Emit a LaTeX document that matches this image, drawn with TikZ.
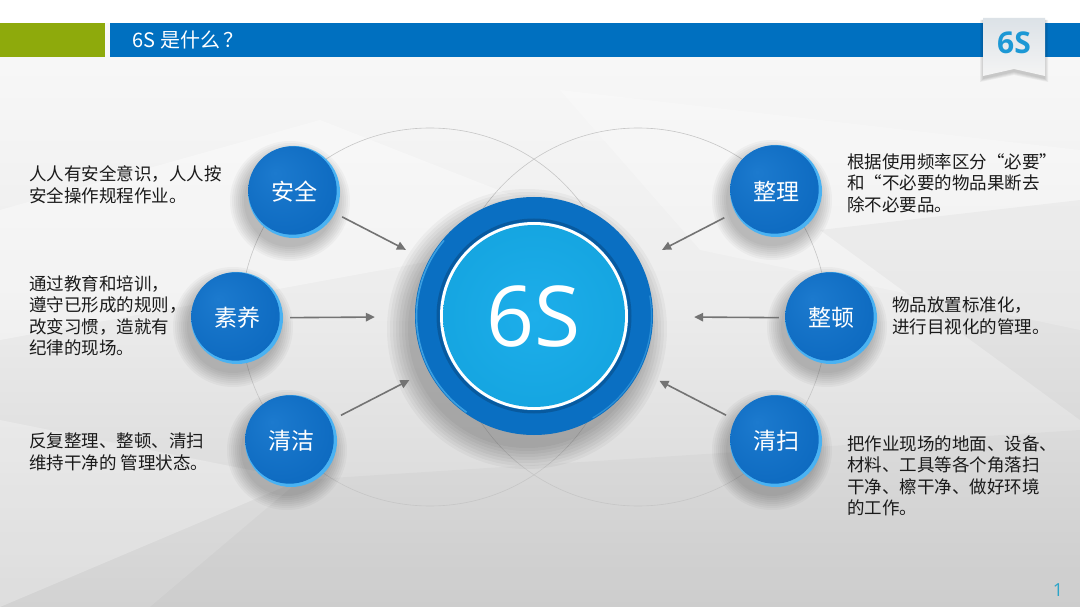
\documentclass[tikz,border=0pt]{standalone}
\usepackage{fontspec}
\setmainfont{Noto Sans CJK SC}
\newfontfamily\cjk{Noto Sans CJK SC}
\newfontfamily\latinf{Open Sans}
\usetikzlibrary{arrows.meta}
\definecolor{bgtop}{HTML}{FAFAFA}
\definecolor{bgmid}{HTML}{ECECEC}
\definecolor{bgbot}{HTML}{D2D2D2}
\definecolor{guidegray}{HTML}{C6C6C6}
\definecolor{ballA}{HTML}{1C7ACE}
\definecolor{ballB}{HTML}{0E6BC1}
\definecolor{ballC}{HTML}{0B63B6}
\definecolor{ballrim}{HTML}{4AB2F2}
\definecolor{ringblue}{HTML}{0A6FC2}
\definecolor{ringlight}{HTML}{5CC0F6}
\definecolor{coreA}{HTML}{1DAEEA}
\definecolor{coreB}{HTML}{0E9DD8}
\definecolor{arrowgray}{HTML}{737373}
\definecolor{textdark}{HTML}{1A1A1A}
\definecolor{tabblue}{HTML}{1C98D5}
\definecolor{tabtop}{HTML}{DCE2E7}
\definecolor{tabbot}{HTML}{F4F4F4}
\definecolor{pagecyan}{HTML}{2BA4C8}
\definecolor{bargreen}{HTML}{8EAA0C}
\definecolor{barblue}{HTML}{0070C0}
\pgfdeclareradialshading{ballshade}{\pgfpoint{-10bp}{10bp}}{color(0bp)=(ballA); color(30bp)=(ballB); color(50bp)=(ballC)}
\pgfdeclareradialshading{coreshade}{\pgfpoint{0bp}{0bp}}{color(0bp)=(coreA); color(50bp)=(coreB)}
\newcommand\drawball[4]{%
  \foreach \k in {0,2,...,14}{\fill[black,opacity=0.03] (#2-4,#3+9) circle[radius={(46+\k)*1pt}];}
  \fill[ballrim] (#2,#3) circle[radius=46pt];
  \shade[shading=ballshade] (#2-1.5,#3-1.5) circle[radius=44.2pt];
  \node[ball] (#1) at (#2,#3) {#4};
}
\begin{document}
\begin{tikzpicture}[x=1pt,y=-1pt,
  ball/.style={circle, minimum size=92pt, inner sep=0pt, text=white, font=\cjk\fontsize{23}{23}\selectfont},
  desc/.style={align=left, inner sep=0pt, text=textdark, font=\cjk\fontsize{17.5}{21.5}\selectfont, anchor=west},
  conn/.style={draw=arrowgray, line width=1.6pt, -{Triangle[length=9pt,width=8.5pt]}},
  guide/.style={draw=guidegray, line width=0.6pt}]
\useasboundingbox (0,0) rectangle (1080,607);
% background
\shade[top color=bgtop, bottom color=bgbot, middle color=bgmid] (0,0) rectangle (1080,607);
\fill[white, opacity=.35] (0,210) -- (320,120) -- (600,230) -- (0,340) -- cycle;
\fill[white, opacity=.25] (560,90) -- (1080,150) -- (1080,330) -- (700,250) -- cycle;
\fill[black, opacity=.03] (820,230) -- (1080,200) -- (1080,420) -- cycle;
\fill[white, opacity=.25] (0,420) -- (300,480) -- (0,607) -- cycle;
\fill[black, opacity=.025] (300,480) -- (1080,430) -- (1080,607) -- (150,607) -- cycle;
\fill[white] (0,0) rectangle (1080,23);
% top bar
\fill[bargreen] (0,23) rectangle (105,57);
\fill[barblue] (110,23) rectangle (1080,57);
\node[anchor=west, text=white, font=\cjk\fontsize{20}{20}\selectfont] (title) at (129,40) {6S 是什么\,？};
% tab
\foreach \k in {0,1,2,3}{\fill[black, opacity=.05] (983-\k,20) -- (1045+\k,20) -- (1045+\k,79+\k) -- (1014,72+\k) -- (983-\k,79+\k) -- cycle;}
\shade[top color=tabtop, bottom color=tabbot] (983,18) -- (1045,18) -- (1045,76) -- (1014,69) -- (983,76) -- cycle;
\node[font=\latinf\bfseries\fontsize{30}{30}\selectfont, text=tabblue] (tab) at (1014,43) {6S};
% guide circles
\draw[guide] (430,317) circle[radius=189pt];
\draw[guide] (638,317) circle[radius=189pt];
% center circle
\foreach \k in {0,3,...,21}{\fill[black,opacity=.035] (527,329) circle[radius={(119+\k)*1pt}];}
\fill[ringblue] (534,316) circle[radius=119pt];
\draw[ringlight, line width=1.6pt, opacity=.6] (534,316) ++(140:117.5pt) arc[start angle=140, end angle=235, radius=117.5pt];
\draw[ringlight, line width=1.2pt, opacity=.4] (534,316) ++(-60:117.5pt) arc[start angle=-60, end angle=10, radius=117.5pt];
\draw[black, opacity=.18, line width=3pt] (534,316) circle[radius=96pt];
\fill[white] (534,316) circle[radius=94pt];
\shade[shading=coreshade] (534,316) circle[radius=91pt];
\node[circle, minimum size=238pt, inner sep=0pt, text=white, font=\latinf\fontsize{84}{84}\selectfont] (core) at (534,316) {6S};
% balls
\drawball{aq}{294}{192}{安全}
\drawball{sy}{237}{318}{素养}
\drawball{qj}{291}{441}{清洁}
\drawball{zl}{776}{191}{整理}
\drawball{zd}{831}{318}{整顿}
\drawball{qs}{776}{441}{清扫}
% arrows
\draw[conn, shorten <=8pt, shorten >=25pt] (aq) -- (core);
\draw[conn, shorten <=7pt, shorten >=40pt] (sy) -- (core);
\draw[conn, shorten <=10pt, shorten >=21pt] (qj) -- (core);
\draw[conn, shorten <=12pt, shorten >=25pt] (zl) -- (core);
\draw[conn, shorten <=6pt, shorten >=41pt] (zd) -- (core);
\draw[conn, shorten <=10pt, shorten >=22pt] (qs) -- (core);
% descriptions
\node[desc] (t1) at (29,185) {人人有安全意识，人人按\\安全操作规程作业。};
\node[desc] (t2) at (29,316) {通过教育和培训，\\遵守已形成的规则，\\改变习惯，造就有\\纪律的现场。};
\node[desc] (t3) at (29,452) {反复整理、整顿、清扫\\维持干净的 管理状态。};
\node[desc] (t4) at (847,183) {根据使用频率区分“必要”\\和“不必要的物品果断去\\除不必要品。};
\node[desc] (t5) at (892,316) {物品放置标准化，\\进行目视化的管理。};
\node[desc] (t6) at (847,476) {把作业现场的地面、设备、\\材料、工具等各个角落扫\\干净、檫干净、做好环境\\的工作。};
\node[text=pagecyan, font=\latinf\fontsize{18}{18}\selectfont] (pg) at (1058,590) {1};
\end{tikzpicture}
\end{document}
